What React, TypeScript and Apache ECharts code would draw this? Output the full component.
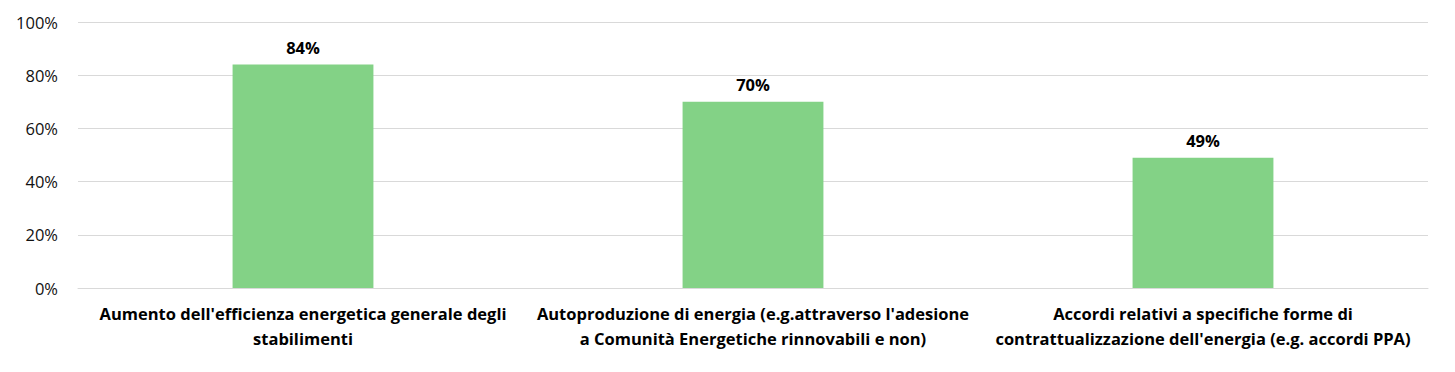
import React, { useEffect, useRef } from "react";
import * as echarts from "echarts";

const categories = [
  "Aumento dell'efficienza energetica generale degli\nstabilimenti",
  "Autoproduzione di energia (e.g.attraverso l'adesione\na Comunità Energetiche rinnovabili e non)",
  "Accordi relativi a specifiche forme di\ncontrattualizzazione dell'energia (e.g. accordi PPA)",
];
const values = [84, 70, 49];
const yTicks = [0, 20, 40, 60, 80, 100];

export default function App() {
  const ref = useRef<HTMLDivElement>(null);
  useEffect(() => {
    if (!ref.current) return;
    const chart = echarts.init(ref.current, null, { renderer: "svg" });
    const font = "'Open Sans', Lato, sans-serif";
    chart.setOption({
      animation: false,
      grid: { left: 70, right: 19, top: 14, bottom: 76 },
      xAxis: {
        type: "category",
        data: categories,
        axisLine: { show: true, lineStyle: { color: "#d9d9d9", width: 1 } },
        axisTick: { show: false },
        axisLabel: {
          interval: 0,
          color: "#000",
          fontFamily: font,
          fontWeight: "bold",
          fontSize: 16.5,
          lineHeight: 25,
          margin: 13,
          align: "center",
        },
      },
      yAxis: {
        type: "value",
        min: yTicks[0],
        max: yTicks[yTicks.length - 1],
        interval: 20,
        axisLine: { show: false },
        axisTick: { show: false },
        splitLine: { lineStyle: { color: "#d9d9d9", width: 1 } },
        axisLabel: {
          color: "#111",
          fontFamily: font,
          fontSize: 16.5,
          margin: 20,
          formatter: (v: number) => v + "%",
        },
      },
      series: [
        {
          type: "bar",
          data: values,
          barWidth: "31.3%",
          itemStyle: { color: "#83D286" },
          label: {
            show: true,
            position: "top",
            distance: 9,
            color: "#000",
            fontFamily: font,
            fontWeight: "bold",
            fontSize: 16.5,
            formatter: (p: any) => p.value + "%",
          },
        },
      ],
    });
    return () => chart.dispose();
  }, []);
  return <div ref={ref} style={{ width: 1439, height: 356 }} />;
}
